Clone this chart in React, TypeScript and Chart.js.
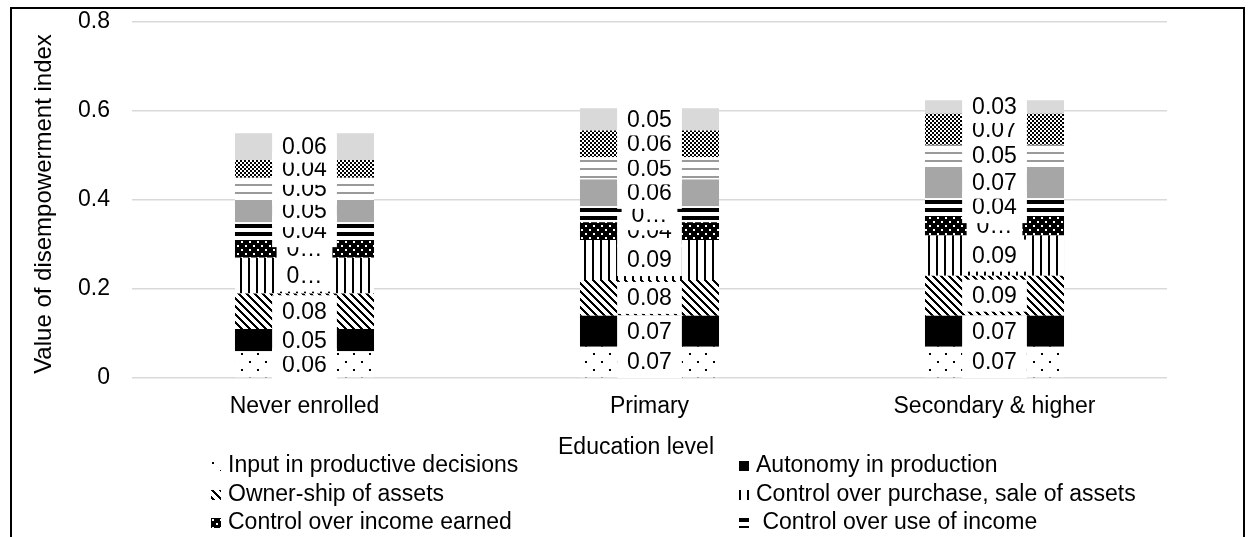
import { useEffect, useRef } from 'react';
import { Chart, registerables } from 'chart.js';

Chart.register(...registerables);

const FONT = "'Liberation Sans', Arial, sans-serif";
const TEXT_SIZE = 23;

// Education groups on the x axis
const categories = ['Never enrolled', 'Primary', 'Secondary & higher'];

// Contribution of each indicator to the disempowerment index (bottom to top of each stack)
const inputDecisions = [0.06, 0.07, 0.07];
const autonomyProduction = [0.05, 0.07, 0.07];
const ownershipAssets = [0.08, 0.08, 0.09];
const purchaseSaleAssets = [0.08, 0.09, 0.09];
const incomeEarned = [0.04, 0.04, 0.044];
const useOfIncome = [0.04, 0.036, 0.04];
const groupMembership = [0.05, 0.06, 0.07];
const speakingPublic = [0.05, 0.05, 0.05];
const workload = [0.04, 0.06, 0.07];
const leisure = [0.06, 0.05, 0.03];

const seriesNames = [
  'Input in productive decisions',
  'Autonomy in production',
  'Owner-ship of assets',
  'Control over purchase, sale of assets',
  'Control over income earned',
  ' Control over use of income',
  'Group membership',
  'Speaking in public',
  'Workload',
  'Leisure',
];
const seriesValues = [
  inputDecisions,
  autonomyProduction,
  ownershipAssets,
  purchaseSaleAssets,
  incomeEarned,
  useOfIncome,
  groupMembership,
  speakingPublic,
  workload,
  leisure,
];

// Data labels that are cut short in their boxes: [series index, category index]
const clippedLabels = [
  [3, 0],
  [4, 0],
  [5, 1],
  [4, 2],
];

const yTicks = [0, 0.2, 0.4, 0.6, 0.8];
const yTitle = 'Value of disempowerment index';
const xTitle = 'Education level';

function tile(w: number, h: number, draw: (c: CanvasRenderingContext2D) => void) {
  const c = document.createElement('canvas');
  c.width = w;
  c.height = h;
  const g = c.getContext('2d')!;
  draw(g);
  return g.createPattern(c, 'repeat')!;
}

function makeFills(): (string | CanvasPattern)[] {
  const sparseDots = tile(16, 16, (g) => {
    g.fillStyle = '#fff';
    g.fillRect(0, 0, 16, 16);
    g.fillStyle = '#000';
    g.fillRect(1, 1, 2, 2);
    g.fillRect(9, 9, 2, 2);
  });
  const diagonal = tile(8, 8, (g) => {
    g.fillStyle = '#fff';
    g.fillRect(0, 0, 8, 8);
    g.fillStyle = '#000';
    for (let y = 0; y < 8; y++) {
      for (let x = 0; x < 8; x++) {
        if ((((x - y) % 8) + 8) % 8 < 3) g.fillRect(x, y, 1, 1);
      }
    }
  });
  const vertical = tile(8, 8, (g) => {
    g.fillStyle = '#fff';
    g.fillRect(0, 0, 8, 8);
    g.fillStyle = '#000';
    g.fillRect(0, 0, 2, 8);
  });
  const dotted = tile(8, 8, (g) => {
    g.fillStyle = '#000';
    g.fillRect(0, 0, 8, 8);
    g.fillStyle = '#fff';
    g.fillRect(1, 1, 2, 2);
    g.fillRect(5, 5, 2, 2);
  });
  const blackLines = tile(8, 8, (g) => {
    g.fillStyle = '#fff';
    g.fillRect(0, 0, 8, 8);
    g.fillStyle = '#000';
    g.fillRect(0, 0, 8, 4);
  });
  const greyLines = tile(8, 8, (g) => {
    g.fillStyle = '#fff';
    g.fillRect(0, 0, 8, 8);
    g.fillStyle = '#9a9a9a';
    g.fillRect(0, 0, 8, 2);
  });
  const checker = tile(4, 4, (g) => {
    g.fillStyle = '#fff';
    g.fillRect(0, 0, 4, 4);
    g.fillStyle = '#000';
    g.fillRect(0, 0, 2, 2);
    g.fillRect(2, 2, 2, 2);
  });
  return [
    sparseDots,
    '#000000',
    diagonal,
    vertical,
    dotted,
    blackLines,
    '#a6a6a6',
    greyLines,
    checker,
    '#d9d9d9',
  ];
}

export default function App() {
  const canvasRef = useRef<HTMLCanvasElement>(null);

  useEffect(() => {
    const canvas = canvasRef.current;
    if (!canvas) return;
    const fills = makeFills();

    const isClipped = (s: number, c: number) =>
      clippedLabels.some(([a, b]) => a === s && b === c);

    const frame = {
      id: 'frame',
      beforeDraw(chart: Chart) {
        const g = chart.ctx;
        g.save();
        g.fillStyle = '#fff';
        g.fillRect(0, 0, chart.width, chart.height);
        g.restore();
      },
      afterDraw(chart: Chart) {
        const g = chart.ctx;
        g.save();
        // outer border
        g.strokeStyle = '#000';
        g.lineWidth = 2;
        g.strokeRect(11, 8, 1233, 700);

        g.fillStyle = '#000';
        g.font = `${TEXT_SIZE}px ${FONT}`;
        g.textAlign = 'center';
        g.textBaseline = 'middle';
        // x axis title
        g.fillText(xTitle, 636, 448);
        // y axis title
        g.save();
        g.font = `24px ${FONT}`;
        g.translate(44, 204);
        g.rotate(-Math.PI / 2);
        g.fillText(yTitle, 0, 0);
        g.restore();

        // legend in two columns
        g.textAlign = 'left';
        chart.data.datasets.forEach((ds, i) => {
          const col = i % 2;
          const row = Math.floor(i / 2);
          const cy = 466 + row * 28.5;
          const ix = col === 0 ? 211 : 739;
          const tx = col === 0 ? 228 : 756;
          g.save();
          g.translate(ix, Math.round(cy - 5));
          g.fillStyle = ds.backgroundColor as any;
          g.fillRect(0, 0, 10, 10);
          g.restore();
          g.fillStyle = '#000';
          g.fillText(ds.label as string, tx, cy);
        });
        g.restore();
      },
    };

    const valueLabels = {
      id: 'valueLabels',
      afterDatasetsDraw(chart: Chart) {
        const g = chart.ctx;
        g.save();
        g.font = `${TEXT_SIZE}px ${FONT}`;
        g.textAlign = 'center';
        g.textBaseline = 'middle';
        chart.data.datasets.forEach((ds, di) => {
          const meta = chart.getDatasetMeta(di);
          meta.data.forEach((bar: any, ci) => {
            const v = ds.data[ci] as number;
            const p = bar.getProps(['x', 'y', 'base'], true);
            const cy = (p.y + p.base) / 2;
            const text = isClipped(di, ci) ? '0\u2026' : v.toFixed(2);
            const w = g.measureText(text).width + 20;
            g.fillStyle = '#fff';
            g.fillRect(p.x - w / 2, cy - 16, w, 32);
            g.fillStyle = '#000';
            g.fillText(text, p.x, cy + 1);
          });
        });
        g.restore();
      },
    };

    const chart = new Chart(canvas, {
      type: 'bar',
      data: {
        labels: categories,
        datasets: seriesValues.map((vals, i) => ({
          label: seriesNames[i],
          data: vals,
          backgroundColor: fills[i] as any,
          borderWidth: 0,
          categoryPercentage: 1,
          barPercentage: 0.403,
        })),
      },
      options: {
        responsive: false,
        animation: false,
        devicePixelRatio: 1,
        layout: { padding: { left: 0, right: 81, top: 22, bottom: 0 } },
        plugins: {
          legend: { display: false },
          tooltip: { enabled: false },
        },
        scales: {
          x: {
            stacked: true,
            grid: { display: false, drawTicks: false },
            border: { display: false },
            ticks: {
              color: '#000',
              font: { family: FONT, size: TEXT_SIZE },
              padding: 15,
              maxRotation: 0,
              autoSkip: false,
            },
            afterFit(scale: any) {
              scale.height = 159;
              scale.paddingLeft = 0;
              scale.paddingRight = 0;
            },
          },
          y: {
            stacked: true,
            min: 0,
            max: 0.8,
            afterBuildTicks(scale: any) {
              scale.ticks = yTicks.map((v) => ({ value: v }));
            },
            grid: { color: '#d9d9d9', lineWidth: 1.5, drawTicks: false },
            border: { display: false },
            ticks: {
              color: '#000',
              font: { family: FONT, size: TEXT_SIZE },
              padding: 22,
              callback: (v: any) => String(Number(v)),
            },
            afterFit(scale: any) {
              scale.width = 132;
              scale.paddingTop = 0;
              scale.paddingBottom = 0;
            },
          },
        },
      },
      plugins: [frame, valueLabels],
    });

    return () => chart.destroy();
  }, []);

  return (
    <div style={{ position: 'absolute', left: 0, top: 0, width: 1248, height: 537, background: '#fff' }}>
      <canvas ref={canvasRef} width={1248} height={537} style={{ display: 'block', width: 1248, height: 537 }} />
    </div>
  );
}
